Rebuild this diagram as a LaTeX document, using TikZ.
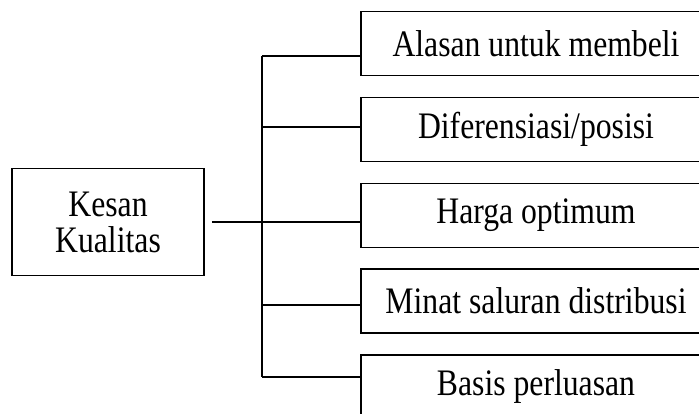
\documentclass[tikz,border=0pt]{standalone}
\usepackage{fontspec}
\usepackage{graphicx}
\setmainfont{Liberation Serif}
\usetikzlibrary{positioning}

\newcommand{\tallt}[1]{\scalebox{1}[1.18]{#1}}

\begin{document}
\begin{tikzpicture}[
    x=1pt, y=-1pt,
    box/.style={rectangle, draw, line width=1.6pt, inner sep=0pt, minimum width=350pt, minimum height=64pt,
                font=\fontsize{31.7}{36}\selectfont},
    main/.style={rectangle, draw, line width=1.6pt, inner sep=0pt, minimum width=192pt, minimum height=107pt,
                 align=center, font=\fontsize{31.7}{36}\selectfont},
    link/.style={line width=1.6pt}
]
\useasboundingbox (0,0) rectangle (699,414);
\clip (0,0) rectangle (699,414);

% Kesan kualitas
\node[main] (kesan) at (108,222) {\tallt{Kesan}\\\tallt{Kualitas}};

% Dimensions
\node[box] (alasan) at (536,43.5) {\tallt{Alasan untuk membeli}};
\node[box] (diferensiasi) at (536,129.5) {\tallt{Diferensiasi/posisi}};
\node[box] (harga) at (536,215.5) {\tallt{Harga optimum}};
\node[box] (minat) at (536,301) {\tallt{Minat saluran distribusi}};
\node[box] (basis) at (536,387) {\tallt{Basis perluasan}};

% Trunk
\coordinate (t1) at (262,56);
\coordinate (t2) at (262,127);
\coordinate (t4) at (262,305);
\coordinate (t5) at (262,377);
\draw[link] (t1) -- (t5);

% Branches
\draw[link] (t1) -- (t1 -| alasan.west);
\draw[link] (t2) -- (t2 -| diferensiasi.west);
\draw[link] ([xshift=7pt]kesan.east) -- (kesan.east -| harga.west);
\draw[link] (t4) -- (t4 -| minat.west);
\draw[link] (t5) -- (t5 -| basis.west);

\end{tikzpicture}
\end{document}
